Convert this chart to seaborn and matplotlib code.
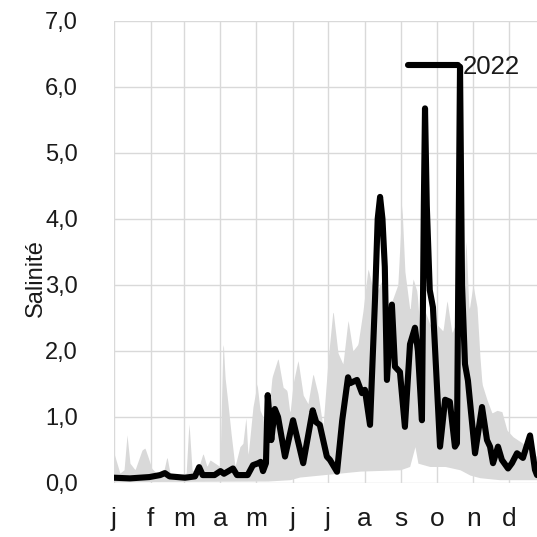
import numpy as np
import pandas as pd
import matplotlib
matplotlib.use("Agg")
import matplotlib.pyplot as plt
import seaborn as sns

# Day-of-year positions and salinity for 2022
days_2022 = [0, 13.5, 30, 39, 43, 47, 60, 68.5, 72, 75, 85, 90, 93, 100.6, 104, 113,
             117.5, 122, 124, 126, 128.5, 130, 133, 136, 138.7, 144.6, 151.4, 160, 168,
             171, 174, 180, 182.6, 188.6, 193, 197.9, 199.6, 205.5, 209.7, 212.2, 216.5,
             220.7, 223, 225, 227, 229, 230.8, 235, 237.6, 241.8, 246, 250.3, 254.5, 257,
             260.4, 262, 263, 264.5, 267, 269.7, 275.7, 280, 284, 288.3, 290, 292.6,
             294.3, 296.8, 299.3, 305.3, 311.2, 315.4, 318, 320.5, 324.7, 328, 333.2,
             336.5, 340.8, 345.8, 351.8, 356, 357.7]
sal_2022 = [0.08, 0.07, 0.09, 0.12, 0.15, 0.10, 0.08, 0.10, 0.24, 0.12, 0.12, 0.18, 0.14,
            0.22, 0.12, 0.12, 0.27, 0.30, 0.32, 0.18, 0.30, 1.33, 0.65, 1.12, 1.00, 0.40,
            0.95, 0.30, 1.10, 0.92, 0.88, 0.40, 0.35, 0.17, 0.95, 1.60, 1.51, 1.56, 1.36,
            1.41, 0.88, 2.77, 4.00, 4.33, 4.00, 3.27, 1.56, 2.70, 1.76, 1.68, 0.85, 2.10,
            2.35, 2.00, 0.95, 4.20, 5.67, 4.20, 2.92, 2.66, 0.55, 1.26, 1.23, 0.55, 0.60,
            6.30, 3.00, 1.80, 1.55, 0.45, 1.15, 0.65, 0.55, 0.30, 0.55, 0.35, 0.22, 0.30,
            0.45, 0.38, 0.72, 0.20, 0.12]

# Envelope (min / max) of the other years
days_max = [0, 2.5, 5, 8.5, 11, 13.5, 17.8, 23.7, 26.2, 28.7, 32, 37, 42.3, 44.8, 47.4,
            55.8, 61, 63.4, 66, 70, 75.3, 78.6, 81.2, 85.4, 89.6, 92.2, 93.9, 96.4, 99,
            102.3, 106.5, 109, 111.6, 113.3, 115, 117.5, 121, 123.5, 126, 128.5, 132,
            133.6, 138.7, 143, 146.3, 148.8, 151.4, 155.6, 160, 164, 168.3, 172.5, 176.7,
            181, 185.2, 189.4, 193.6, 197.9, 202, 206.3, 210.5, 214.8, 218.2, 222.4,
            227.5, 231.7, 236, 240, 243.5, 246, 250.3, 252.8, 256.2, 258.8, 263, 267.2,
            273, 278.2, 281.6, 285.8, 290.9, 295.1, 297.6, 300.2, 303.6, 307, 309.5,
            311.2, 315.4, 319.6, 323.9, 328, 332.3, 337.4, 341.6, 345.8, 349.2, 353.5,
            357.7]
sal_max = [0.45, 0.30, 0.15, 0.20, 0.73, 0.30, 0.20, 0.50, 0.53, 0.40, 0.22, 0.13, 0.20,
           0.40, 0.15, 0.12, 0.15, 0.92, 0.20, 0.15, 0.45, 0.25, 0.35, 0.30, 0.25, 2.20,
           1.60, 1.20, 0.75, 0.25, 0.55, 0.60, 1.00, 0.40, 0.70, 1.15, 1.50, 1.10, 1.00,
           0.55, 1.30, 1.60, 1.89, 1.45, 1.40, 1.05, 1.50, 1.86, 1.33, 1.20, 1.66, 1.35,
           0.85, 1.86, 2.62, 1.97, 1.80, 2.47, 2.00, 2.10, 2.60, 3.25, 3.00, 2.90, 3.10,
           2.60, 2.80, 3.00, 4.20, 3.20, 2.60, 3.10, 2.90, 2.30, 2.60, 2.40, 2.40, 2.30,
           2.77, 2.27, 2.50, 2.60, 3.70, 2.60, 3.00, 2.66, 1.90, 1.50, 1.26, 1.06, 1.10,
           1.08, 0.80, 0.70, 0.65, 0.60, 0.50, 0.45, 0.40]
days_min = [0, 130, 148.8, 157, 174, 191, 208, 242, 250, 254.5, 257, 267, 280, 292.6,
            301, 309.5, 326, 357.7]
sal_min = [0.02, 0.03, 0.05, 0.09, 0.12, 0.15, 0.18, 0.20, 0.25, 0.55, 0.30, 0.25, 0.25,
           0.20, 0.12, 0.08, 0.05, 0.05]

month_starts = [0, 31, 59, 90, 120, 151, 181, 212, 243, 273, 304, 334]
month_labels = ["j", "f", "m", "a", "m", "j", "j", "a", "s", "o", "n", "d"]
y_ticks = [0, 1, 2, 3, 4, 5, 6, 7]

sns.set_theme(style="white")
plt.rcParams["font.family"] = ["Liberation Sans", "DejaVu Sans"]
ink = "#1a1a1a"

fig = plt.figure(figsize=(5.37, 5.37), dpi=100)
ax = fig.add_axes([114 / 537, 54 / 537, 423 / 537, 462.5 / 537])

# Envelope of previous years on a common daily grid
grid = np.arange(0, 358.0, 0.5)
upper = np.interp(grid, days_max, sal_max)
lower = np.interp(grid, days_min, sal_min)
ax.fill_between(grid, lower, upper, color="#d9d9d9", linewidth=0, zorder=1)

df = pd.DataFrame({"jour": days_2022, "salinite": sal_2022})
sns.lineplot(data=df, x="jour", y="salinite", ax=ax, color="black", linewidth=4.4,
             label="2022", zorder=3, solid_capstyle="round", solid_joinstyle="round")

ax.set_xlim(0, 357.7)
ax.set_ylim(0, 7)
ax.set_xticks(month_starts)
ax.set_xticklabels(month_labels)
ax.set_yticks(y_ticks)
ax.set_yticklabels([f"{v:.1f}".replace(".", ",") for v in y_ticks])
ax.tick_params(axis="both", length=0, colors=ink)
ax.tick_params(axis="y", labelsize=17, pad=26)
ax.tick_params(axis="x", labelsize=19, pad=17)
ax.grid(True, color="#d9d9d9", linewidth=1.0, zorder=0)
ax.set_axisbelow(True)
for s in ax.spines.values():
    s.set_visible(False)

ax.set_xlabel("")
ax.set_ylabel("Salinité", fontsize=17, color=ink)
ax.yaxis.set_label_coords(-0.158, 0.443)

leg = ax.legend(loc="center left", bbox_to_anchor=((408 - 114) / 423, (483 - 67) / 462.5),
                frameon=False, fontsize=18.5,
                handlelength=1.95, handletextpad=0.2, borderpad=0, borderaxespad=0)
for t in leg.get_texts():
    t.set_color(ink)

fig.savefig("out.png", dpi=100)
